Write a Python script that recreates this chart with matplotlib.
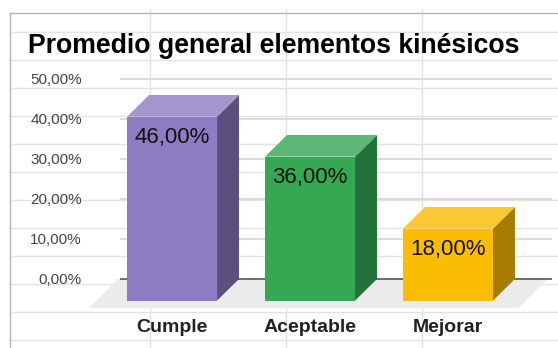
import matplotlib
matplotlib.use("Agg")
import matplotlib.pyplot as plt
from matplotlib.patches import Polygon, Rectangle
from matplotlib.lines import Line2D

categories = ["Cumple", "Aceptable", "Mejorar"]
values = [0.46, 0.36, 0.18]
front_colors = ["#8e7cc3", "#34a853", "#fbbc04"]
side_colors = ["#5c4f80", "#23713a", "#a67c02"]
top_colors = ["#a596d0", "#5cb878", "#fbc733"]
y_ticks = [0.0, 0.1, 0.2, 0.3, 0.4, 0.5]
title = "Promedio general elementos kinésicos"

plt.rcParams["font.family"] = ["Liberation Sans", "DejaVu Sans"]

W, H = 558, 348
fig = plt.figure(figsize=(W / 100, H / 100), dpi=100)


def fx(px):
    return px / W


def fy(py):
    return 1 - py / H


# spreadsheet cell grid behind the chart
for py in range(32, H, 28):
    fig.add_artist(Line2D([fx(10), 1], [fy(py), fy(py)], color="#e3e3e3", lw=1, zorder=-2))
for px in [150, 286, 422]:
    fig.add_artist(Line2D([fx(px), fx(px)], [0, fy(10)], color="#e3e3e3", lw=1, zorder=-2))
fig.add_artist(Line2D([fx(10), fx(10)], [0, fy(13)], color="#b5b5b5", lw=1, zorder=-1))
fig.add_artist(Line2D([fx(10), 1], [fy(13), fy(13)], color="#b5b5b5", lw=1, zorder=-1))

# axes placed so that 0% sits at y=279px and 10% spans 40px
ax = fig.add_axes([fx(85), fy(318), fx(558 - 85), (318 - 70) / H])
ax.patch.set_alpha(0)
ax.set_xlim(-0.79, 2.638)
ax.set_ylim(-0.0975, 0.5225)
for s in ax.spines.values():
    s.set_visible(False)
ax.set_xticks([])
ax.set_yticks(y_ticks)
ax.set_yticklabels([f"{t * 100:.2f}%".replace(".", ",") for t in y_ticks],
                   fontsize=11, color="#444444")
ax.tick_params(axis="y", length=0, pad=2.2)

# 3d depth offsets (data units)
DX, DY = 0.159, 0.054
FX, FY = 0.21, 0.0725
half = 0.326
x0, x1 = -0.536, 2.594

# floor
ax.add_patch(Polygon([(x0 - 0.015, 0), (x1 - 0.035, 0), (x1 - 0.035 - FX, -FY), (x0 - 0.015 - FX, -FY)],
                     closed=True, facecolor="#ebebeb", edgecolor="none", zorder=1))
# back wall gridlines
ax.hlines([t for t in y_ticks if t > 0], x0, x1, color="#d6d6d6", lw=1.2, zorder=0.5)
ax.hlines(0, x0, x1, color="#555555", lw=1.2, zorder=1.5)

for i, (cat, v) in enumerate(zip(categories, values)):
    bl, br = i - half, i + half
    fl, fr = bl - DX, br - DX
    ax.add_patch(Polygon([(fr, -DY), (fr, v - DY), (br, v), (br, 0)],
                         closed=True, facecolor=side_colors[i], edgecolor="none", zorder=2))
    ax.add_patch(Polygon([(fl, v - DY), (fr, v - DY), (br, v), (bl, v)],
                         closed=True, facecolor=top_colors[i], edgecolor="none", zorder=2))
    ax.add_patch(Rectangle((fl, -DY), fr - fl, v, facecolor=front_colors[i],
                           edgecolor="none", zorder=3))
    ax.text(i - DX, v - DY - 0.053, f"{v * 100:.2f}%".replace(".", ","),
            ha="center", va="center", fontsize=16, color="#111111", zorder=4)
    ax.text(i - DX, -0.1225, cat, ha="center", va="center", fontsize=14,
            fontweight="bold", color="#222222", clip_on=False)

fig.text(fx(28), fy(53), title, ha="left", va="baseline", fontsize=19.2,
         fontweight="bold", color="#000000")

fig.savefig("out.png", dpi=100)
